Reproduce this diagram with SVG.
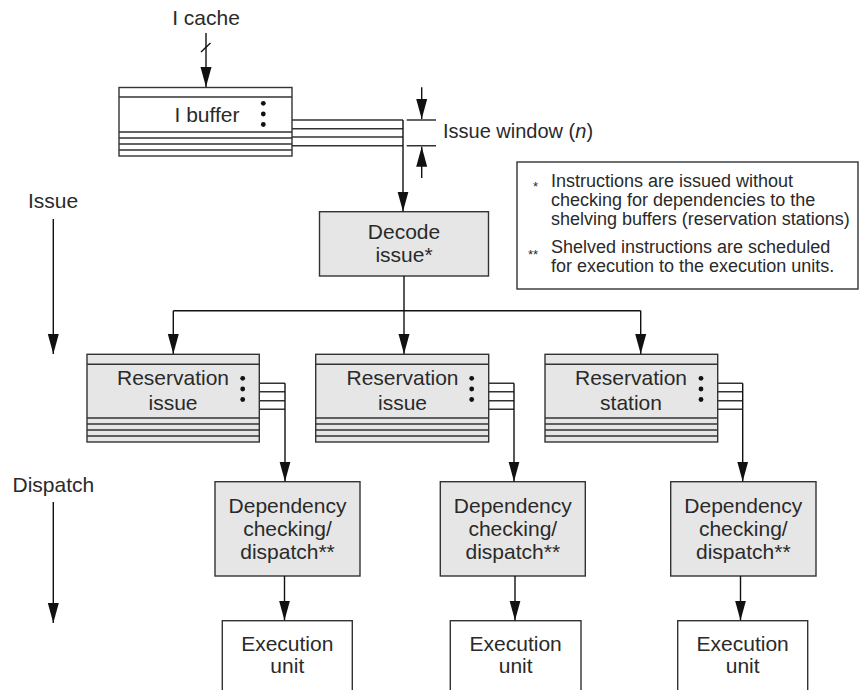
<svg xmlns="http://www.w3.org/2000/svg" width="863" height="690" viewBox="0 0 863 690">
<style>
text{font-family:"Liberation Sans",Arial,Helvetica,sans-serif;fill:#2a2a2a}
.t{font-size:21px;text-anchor:middle}
.l{font-size:21px}
.w{font-size:20px}
.g{font-size:18px}
.s{font-size:13px}
.box{stroke:#333;stroke-width:1.4}
.sh{fill:#e6e6e6}
.wh{fill:#fff}
.ln{stroke:#333;stroke-width:1.4;fill:none}
.c{stroke:#111;stroke-width:1.4;fill:none}
.dot{fill:#111}
</style>
<defs>
<marker id="ah" markerUnits="userSpaceOnUse" markerWidth="20" markerHeight="12" refX="20" refY="6" orient="auto">
<path d="M0,0.5 L20,6 L0,11.5 z" fill="#111"/>
</marker>
</defs>
<rect width="863" height="690" fill="#fff"/>

<g id="labels">
<text class="l" x="28" y="208">Issue</text>
<text class="l" x="12.5" y="492">Dispatch</text>
<text class="t" x="206" y="25">I cache</text>
<text class="w" x="443" y="138">Issue window (<tspan font-style="italic">n</tspan>)</text>
</g>

<g id="ibuffer">
<rect class="box wh" x="119" y="87.5" width="173" height="68.5"/>
<path class="ln" d="M119,97H292M119,132H292M119,138H292M119,144H292M119,150H292"/>
<text class="t" x="207" y="121.5">I buffer</text>
<circle class="dot" cx="263.3" cy="103.3" r="2.4"/>
<circle class="dot" cx="263.3" cy="114" r="2.4"/>
<circle class="dot" cx="263.3" cy="124.5" r="2.4"/>
</g>

<g id="decode">
<rect class="box sh" x="319.5" y="211.7" width="169" height="64.3"/>
<text class="t" x="404" y="238.5">Decode</text>
<text class="t" x="404" y="262">issue*</text>
</g>

<g id="legend">
<rect class="box wh" x="517" y="162" width="341" height="127"/>
<text class="s" x="533" y="191">*</text>
<text class="g" x="551" y="187">Instructions are issued without</text>
<text class="g" x="551" y="206">checking for dependencies to the</text>
<text class="g" x="551" y="225">shelving buffers (reservation stations)</text>
<text class="s" x="528" y="259">**</text>
<text class="g" x="551" y="253">Shelved instructions are scheduled</text>
<text class="g" x="551" y="272">for execution to the execution units.</text>
</g>

<g id="rs1">
<rect class="box sh" x="87" y="354.3" width="172.3" height="87.7"/>
<path class="ln" d="M87,364.3H259.3M87,418H259.3M87,424H259.3M87,430H259.3M87,436H259.3"/>
<text class="t" x="173" y="385">Reservation</text>
<text class="t" x="173" y="409.5">issue</text>
<circle class="dot" cx="242.7" cy="378.3" r="2.4"/>
<circle class="dot" cx="242.7" cy="389" r="2.4"/>
<circle class="dot" cx="242.7" cy="399.5" r="2.4"/>
</g>
<g id="rs2">
<rect class="box sh" x="315.7" y="354.3" width="173" height="87.7"/>
<path class="ln" d="M315.7,364.3H488.7M315.7,418H488.7M315.7,424H488.7M315.7,430H488.7M315.7,436H488.7"/>
<text class="t" x="402.5" y="385">Reservation</text>
<text class="t" x="402.5" y="409.5">issue</text>
<circle class="dot" cx="471.7" cy="378.3" r="2.4"/>
<circle class="dot" cx="471.7" cy="389" r="2.4"/>
<circle class="dot" cx="471.7" cy="399.5" r="2.4"/>
</g>
<g id="rs3">
<rect class="box sh" x="545" y="354.3" width="172.7" height="87.7"/>
<path class="ln" d="M545,364.3H717.7M545,418H717.7M545,424H717.7M545,430H717.7M545,436H717.7"/>
<text class="t" x="631" y="385">Reservation</text>
<text class="t" x="631" y="409.5">station</text>
<circle class="dot" cx="701" cy="378.3" r="2.4"/>
<circle class="dot" cx="701" cy="389" r="2.4"/>
<circle class="dot" cx="701" cy="399.5" r="2.4"/>
</g>

<g id="dep1">
<rect class="box sh" x="215" y="481.7" width="145" height="94.3"/>
<text class="t" x="287.5" y="512.7">Dependency</text>
<text class="t" x="287.5" y="536">checking/</text>
<text class="t" x="287.5" y="559.3">dispatch**</text>
</g>
<g id="dep2">
<rect class="box sh" x="440.3" y="481.7" width="145" height="94.3"/>
<text class="t" x="512.8" y="512.7">Dependency</text>
<text class="t" x="512.8" y="536">checking/</text>
<text class="t" x="512.8" y="559.3">dispatch**</text>
</g>
<g id="dep3">
<rect class="box sh" x="670.7" y="481.7" width="145.3" height="94.3"/>
<text class="t" x="743.3" y="512.7">Dependency</text>
<text class="t" x="743.3" y="536">checking/</text>
<text class="t" x="743.3" y="559.3">dispatch**</text>
</g>

<g id="eu1">
<rect class="box wh" x="222.3" y="620.7" width="130" height="90"/>
<text class="t" x="287.3" y="650.7">Execution</text>
<text class="t" x="287.3" y="673.3">unit</text>
</g>
<g id="eu2">
<rect class="box wh" x="450.3" y="620.7" width="130.7" height="90"/>
<text class="t" x="515.7" y="650.7">Execution</text>
<text class="t" x="515.7" y="673.3">unit</text>
</g>
<g id="eu3">
<rect class="box wh" x="677.7" y="620.7" width="130" height="90"/>
<text class="t" x="742.7" y="650.7">Execution</text>
<text class="t" x="742.7" y="673.3">unit</text>
</g>

<g id="connectors">
<line class="c" x1="53.3" y1="219" x2="53.3" y2="354" marker-end="url(#ah)"/>
<line class="c" x1="53.3" y1="502" x2="53.3" y2="623" marker-end="url(#ah)"/>
<line class="c" x1="206" y1="33" x2="206" y2="87" marker-end="url(#ah)"/>
<line class="c" x1="201" y1="52" x2="210.5" y2="43"/>
<path class="ln" d="M292,120H403M292,128.7H403M292,137H403M292,145.7H403"/>
<line class="c" x1="403" y1="120" x2="403" y2="211.5" marker-end="url(#ah)"/>
<path class="ln" d="M406.7,120H436M406.7,145.7H436"/>
<line class="c" x1="421.7" y1="87.3" x2="421.7" y2="119" marker-end="url(#ah)"/>
<line class="c" x1="421.7" y1="178" x2="421.7" y2="146.7" marker-end="url(#ah)"/>
<line class="c" x1="404" y1="276" x2="404" y2="354" marker-end="url(#ah)"/>
<path class="c" d="M173.3,310.7H640.7"/>
<line class="c" x1="173.3" y1="310.7" x2="173.3" y2="354" marker-end="url(#ah)"/>
<line class="c" x1="640.7" y1="310.7" x2="640.7" y2="354" marker-end="url(#ah)"/>
<path class="ln" d="M259.3,383.3H285M259.3,391.7H285M259.3,400.7H285M259.3,409.3H285"/>
<line class="c" x1="285" y1="383.3" x2="285" y2="481.5" marker-end="url(#ah)"/>
<path class="ln" d="M488.7,383.3H514M488.7,391.7H514M488.7,400.7H514M488.7,409.3H514"/>
<line class="c" x1="514" y1="383.3" x2="514" y2="481.5" marker-end="url(#ah)"/>
<path class="ln" d="M717.7,383.3H742.7M717.7,391.7H742.7M717.7,400.7H742.7M717.7,409.3H742.7"/>
<line class="c" x1="742.7" y1="383.3" x2="742.7" y2="481.5" marker-end="url(#ah)"/>
<line class="c" x1="284.5" y1="576" x2="284.5" y2="620.5" marker-end="url(#ah)"/>
<line class="c" x1="515" y1="576" x2="515" y2="620.5" marker-end="url(#ah)"/>
<line class="c" x1="740.5" y1="576" x2="740.5" y2="620.5" marker-end="url(#ah)"/>
</g>
</svg>
